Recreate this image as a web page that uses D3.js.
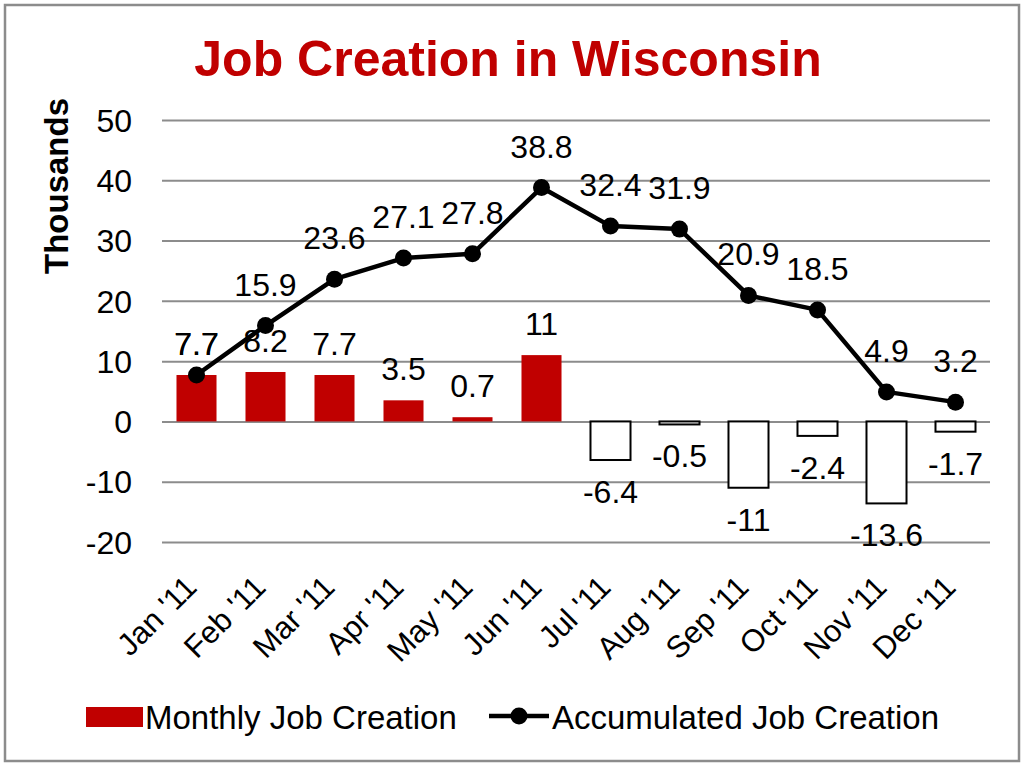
<!DOCTYPE html>
<html lang="en">
<head>
<meta charset="UTF-8">
<script src="https://cdn.jsdelivr.net/npm/d3@7"></script>
<style>
  body { margin: 0; background: #fff; font-family: "Liberation Sans", Arial, sans-serif; }
  svg text { fill: #000; }
</style>
</head>
<body>
<script>
  const months = ["Jan '11", "Feb '11", "Mar '11", "Apr '11", "May '11", "Jun '11",
                  "Jul '11", "Aug '11", "Sep '11", "Oct '11", "Nov '11", "Dec '11"];
  const monthly = [7.7, 8.2, 7.7, 3.5, 0.7, 11, -6.4, -0.5, -11, -2.4, -13.6, -1.7];
  const accumulated = [7.7, 15.9, 23.6, 27.1, 27.8, 38.8, 32.4, 31.9, 20.9, 18.5, 4.9, 3.2];
  const yTicks = [50, 40, 30, 20, 10, 0, -10, -20];

  const W = 1024, H = 766;
  const margin = {left: 162, right: 34, top: 120, bottom: 224};
  const red = "#c00000";

  const svg = d3.select("body").append("svg")
      .attr("width", W).attr("height", H);

  // outer frame
  svg.append("rect")
      .attr("x", 5).attr("y", 5).attr("width", W - 10).attr("height", H - 10)
      .attr("fill", "#fff").attr("stroke", "#8c8c8c").attr("stroke-width", 2.5);

  svg.append("text")
      .attr("x", 508).attr("y", 76)
      .attr("text-anchor", "middle")
      .style("font-size", "50px").style("font-weight", "bold")
      .style("fill", red)
      .text("Job Creation in Wisconsin");

  const x = d3.scaleBand()
      .domain(months)
      .range([margin.left, W - margin.right])
      .paddingInner(0.42).paddingOuter(0.21);

  const y = d3.scaleLinear()
      .domain([-20, 50])
      .range([H - margin.bottom, margin.top]);

  const cx = m => x(m) + x.bandwidth() / 2;

  // gridlines + tick labels
  const yAxis = svg.append("g")
      .attr("transform", `translate(${margin.left},0)`)
      .call(d3.axisLeft(y).tickValues(yTicks).tickFormat(d => String(d))
        .tickSize(-(W - margin.left - margin.right)).tickPadding(30));
  yAxis.select(".domain").remove();
  yAxis.selectAll(".tick line").attr("stroke", "#8c8c8c").attr("stroke-width", 2);
  yAxis.selectAll(".tick text")
      .style("font-size", "32px").style("font-family", "Liberation Sans, Arial, sans-serif")
      .attr("fill", "#000").attr("dy", "0.35em");

  svg.append("text")
      .attr("transform", "translate(68,186) rotate(-90)")
      .attr("text-anchor", "middle")
      .style("font-size", "33px").style("font-weight", "bold")
      .text("Thousands");

  // bars
  svg.append("g").selectAll("rect")
    .data(monthly)
    .join("rect")
      .attr("x", (d, i) => x(months[i]))
      .attr("width", x.bandwidth())
      .attr("y", d => y(Math.max(0, d)))
      .attr("height", d => Math.abs(y(d) - y(0)))
      .attr("fill", d => d >= 0 ? red : "#fff")
      .attr("stroke", d => d >= 0 ? "none" : "#000")
      .attr("stroke-width", 2);

  const barLabelY = d => d >= 0 ? y(d) - 20 : y(d) + 43;

  svg.append("g").selectAll("text")
    .data(monthly)
    .join("text")
      .attr("x", (d, i) => cx(months[i]))
      .attr("y", barLabelY)
      .attr("text-anchor", "middle")
      .style("font-size", "32px")
      .text(d => d);

  // accumulated line
  const line = d3.line()
      .x((d, i) => cx(months[i]))
      .y(d => y(d));

  svg.append("path")
      .datum(accumulated)
      .attr("d", line)
      .attr("fill", "none")
      .attr("stroke", "#000")
      .attr("stroke-width", 4.5)
      .attr("stroke-linejoin", "round");

  svg.append("g").selectAll("circle")
    .data(accumulated)
    .join("circle")
      .attr("cx", (d, i) => cx(months[i]))
      .attr("cy", d => y(d))
      .attr("r", 8.5)
      .attr("fill", "#000");

  // when the line label repeats the bar label's value, both sit on one spot
  svg.append("g").selectAll("text")
    .data(accumulated)
    .join("text")
      .attr("x", (d, i) => cx(months[i]))
      .attr("y", (d, i) => d === monthly[i] ? barLabelY(monthly[i]) : y(d) - 30)
      .attr("text-anchor", "middle")
      .style("font-size", "32px")
      .text(d => d);

  // category labels
  svg.append("g").selectAll("text")
    .data(months)
    .join("text")
      .attr("transform", m => `translate(${cx(m) + 2},${589}) rotate(-45)`)
      .attr("text-anchor", "end")
      .style("font-size", "31px")
      .text(m => m);

  // legend
  const leg = svg.append("g").style("font-size", "33px");
  leg.append("rect").attr("x", 86).attr("y", 707).attr("width", 57).attr("height", 20).attr("fill", red);
  leg.append("text").attr("x", 145).attr("y", 729).text("Monthly Job Creation");
  leg.append("line").attr("x1", 489).attr("x2", 549).attr("y1", 716).attr("y2", 716)
      .attr("stroke", "#000").attr("stroke-width", 4.5);
  leg.append("circle").attr("cx", 519).attr("cy", 716).attr("r", 8.5).attr("fill", "#000");
  leg.append("text").attr("x", 552).attr("y", 729).text("Accumulated Job Creation");
</script>
</body>
</html>
